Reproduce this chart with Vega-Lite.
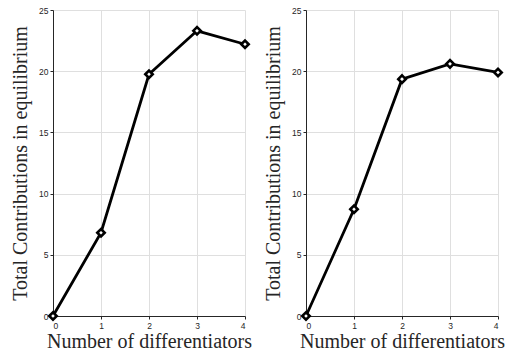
{
  "$schema": "https://vega.github.io/schema/vega-lite/v6.json",
  "padding": {"left": 10, "top": 6, "right": 0, "bottom": 0},
  "background": "white",
  "bounds": "flush",
  "spacing": 61,
  "datasets": {
    "d": [
      {"panel": "A", "n": 0, "total": 0},
      {"panel": "A", "n": 1, "total": 6.8},
      {"panel": "A", "n": 2, "total": 19.75},
      {"panel": "A", "n": 3, "total": 23.3},
      {"panel": "A", "n": 4, "total": 22.2},
      {"panel": "B", "n": 0, "total": 0},
      {"panel": "B", "n": 1, "total": 8.72},
      {"panel": "B", "n": 2, "total": 19.35},
      {"panel": "B", "n": 3, "total": 20.6},
      {"panel": "B", "n": 4, "total": 19.9}
    ]
  },
  "config": {
    "view": {"stroke": null},
    "axis": {
      "domainColor": "#262626",
      "tickColor": "#262626",
      "labelColor": "#262626",
      "labelFont": "Liberation Sans",
      "labelFontSize": 8.5,
      "titleFont": "Liberation Serif",
      "titleFontSize": 20,
      "titleFontWeight": "normal",
      "titleColor": "#262626",
      "gridColor": "#dfdfdf",
      "gridWidth": 1,
      "tickSize": 3,
      "labelPadding": 2
    },
    "axisX": {"titlePadding": 2},
    "axisY": {"titlePadding": 8}
  },
  "hconcat": [
    {
      "width": 192,
      "height": 306,
      "data": {"name": "d"},
      "transform": [{"filter": "datum.panel == 'A'"}],
      "encoding": {
        "x": {"field": "n", "type": "quantitative", "scale": {"domain": [0, 4], "nice": false}, "axis": {"values": [0, 1, 2, 3, 4], "title": "Number of differentiators"}},
        "y": {"field": "total", "type": "quantitative", "scale": {"domain": [0, 25], "nice": false}, "axis": {"values": [0, 5, 10, 15, 20, 25], "title": "Total Contributions in equilibrium"}}
      },
      "layer": [
        {"mark": {"type": "line", "color": "black", "strokeWidth": 2.8}},
        {"mark": {"type": "point", "shape": "diamond", "filled": true, "fill": "white", "stroke": "black", "strokeWidth": 2.6, "size": 55, "opacity": 1}}
      ]
    },
    {
      "width": 192,
      "height": 306,
      "data": {"name": "d"},
      "transform": [{"filter": "datum.panel == 'B'"}],
      "encoding": {
        "x": {"field": "n", "type": "quantitative", "scale": {"domain": [0, 4], "nice": false}, "axis": {"values": [0, 1, 2, 3, 4], "title": "Number of differentiators"}},
        "y": {"field": "total", "type": "quantitative", "scale": {"domain": [0, 25], "nice": false}, "axis": {"values": [0, 5, 10, 15, 20, 25], "title": "Total Contributions in equilibrium"}}
      },
      "layer": [
        {"mark": {"type": "line", "color": "black", "strokeWidth": 2.8}},
        {"mark": {"type": "point", "shape": "diamond", "filled": true, "fill": "white", "stroke": "black", "strokeWidth": 2.6, "size": 55, "opacity": 1}}
      ]
    }
  ]
}
